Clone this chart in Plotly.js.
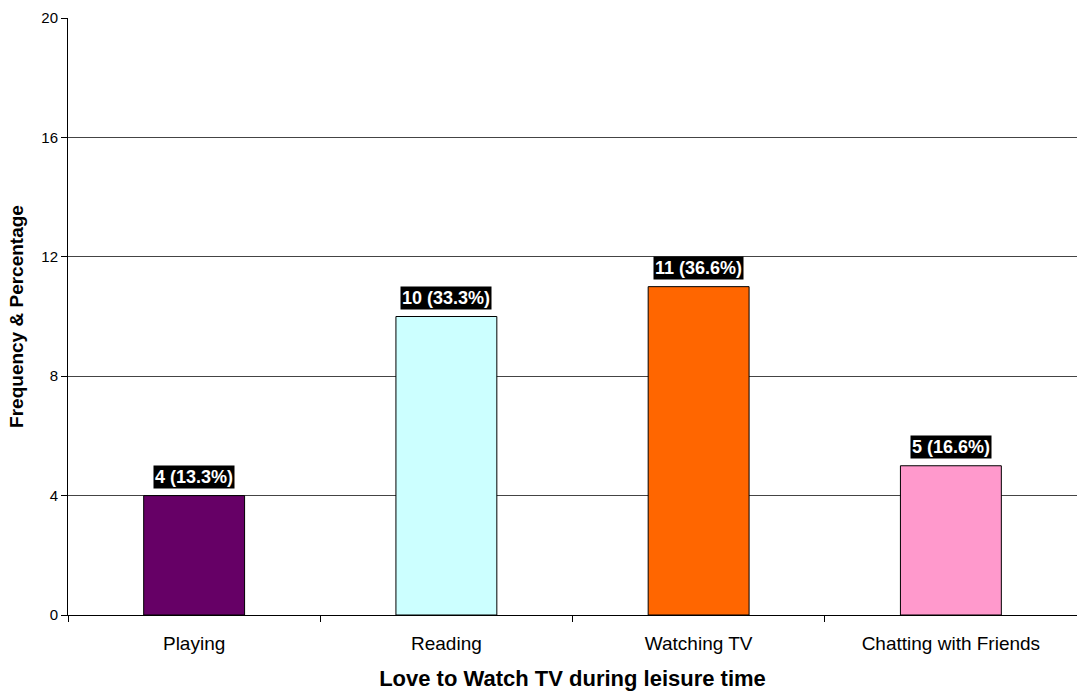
<!DOCTYPE html>
<html>
<head>
<meta charset="utf-8">
<script src="https://cdn.plot.ly/plotly-3.0.1.min.js"></script>
<style>html,body{margin:0;padding:0;background:#fff;}#chart{width:1077px;height:691px;}</style>
</head>
<body>
<div id="chart"></div>
<script>
const categories = ["Playing", "Reading", "Watching TV", "Chatting with Friends"];
const frequencies = [4, 10, 11, 5];
const percentLabels = ["4 (13.3%)", "10 (33.3%)", "11 (36.6%)", "5 (16.6%)"];
const barColors = ["#660066", "#CCFFFF", "#FF6600", "#FF99CC"];
const yTicks = [0, 4, 8, 12, 16, 20];

const trace = {
  type: "bar",
  x: categories,
  y: frequencies,
  width: 0.4,
  marker: {color: barColors, line: {color: "#000", width: 1}},
  hoverinfo: "none"
};

const annotations = categories.map((c, i) => ({
  x: c, y: frequencies[i], xref: "x", yref: "y",
  yanchor: "bottom", yshift: 7,
  text: percentLabels[i], showarrow: false,
  bgcolor: "#000", borderpad: 1,
  font: {family: "Liberation Sans, Arial, sans-serif", size: 18, color: "#fff", weight: "bold"}
}));

const layout = {
  width: 1077, height: 691,
  margin: {l: 68, r: 0, t: 18, b: 76},
  paper_bgcolor: "#fff", plot_bgcolor: "#fff",
  showlegend: false,
  bargap: 0.6,
  font: {family: "Liberation Sans, Arial, sans-serif", color: "#000"},
  xaxis: {
    type: "category",
    automargin: false,
    showline: true, linecolor: "#000", linewidth: 1,
    ticks: "outside", tickson: "boundaries", ticklen: 6, tickcolor: "#000",
    tickfont: {size: 19, color: "#000"},
    ticklabelstandoff: 11,
    showgrid: false,
    title: {text: "Love to Watch TV during leisure time", font: {size: 22, weight: "bold", color: "#000"}, standoff: 17}
  },
  yaxis: {
    range: [0, 20],
    automargin: false,
    tickvals: yTicks,
    ticks: "outside", ticklen: 6, tickcolor: "#000",
    showline: true, linecolor: "#000", linewidth: 1,
    showgrid: true, gridcolor: "#444", gridwidth: 1,
    zeroline: false,
    tickfont: {size: 15, color: "#000"},
    title: {text: "Frequency & Percentage", font: {size: 19, weight: "bold", color: "#000"}, standoff: 12}
  },
  annotations: annotations
};

Plotly.newPlot("chart", [trace], layout, {displayModeBar: false, staticPlot: true});
</script>
</body>
</html>
